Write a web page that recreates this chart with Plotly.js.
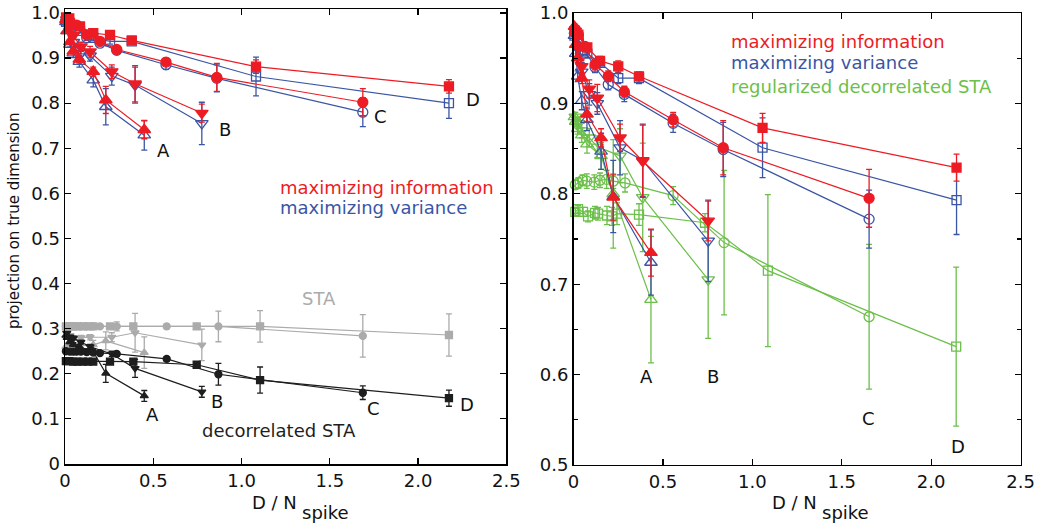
<!DOCTYPE html>
<html><head><meta charset="utf-8">
<script src="https://cdn.plot.ly/plotly-3.0.1.min.js"></script>
<style>html,body{margin:0;padding:0;background:#fff}#chart{width:1052px;height:523px}</style>
</head><body><div id="chart"></div>
<script>
// ---------- LEFT PANEL DATA (x = D / N_spike) ----------
const L_xA = [0.005,0.012,0.028,0.047,0.081,0.16,0.231,0.449];
const L_xB = [0.01,0.028,0.047,0.09,0.142,0.265,0.397,0.775];
const L_xC = [0.01,0.028,0.066,0.123,0.198,0.293,0.572,0.86,1.687];
const L_xD = [0.006,0.024,0.085,0.16,0.255,0.378,1.082,2.175];
const L_xC_sta = [0.005,0.028,0.047,0.066,0.09,0.123,0.16,0.198,0.293,0.576,0.869,1.687];
const L_xD_sta = [0.005,0.024,0.047,0.07,0.1,0.13,0.16,0.255,0.387,0.746,1.105,2.175];

const infoA_L = [0.985,0.96,0.936,0.915,0.897,0.870,0.807,0.741];
const infoB_L = [0.985,0.965,0.95,0.925,0.914,0.87,0.843,0.778];
const infoC_L = [0.985,0.982,0.973,0.951,0.937,0.919,0.891,0.857,0.802];
const infoD_L = [0.99,0.988,0.970,0.955,0.951,0.939,0.881,0.837];
const errInfoA_L = [0.003,0.004,0.005,0.006,0.008,0.01,0.03,0.02];
const errInfoB_L = [0.003,0.005,0.008,0.01,0.012,0.015,0.04,0.02];
const errInfoC_L = [0.002,0.003,0.004,0.005,0.006,0.006,0.008,0.031,0.03];
const errInfoD_L = [0.002,0.003,0.004,0.005,0.006,0.005,0.015,0.015];

const varA_L = [0.98,0.96,0.93,0.911,0.892,0.851,0.792,0.729];
const varB_L = [0.98,0.96,0.935,0.91,0.905,0.86,0.84,0.755];
const varC_L = [0.98,0.978,0.965,0.945,0.933,0.917,0.885,0.855,0.78];
const varD_L = [0.98,0.975,0.96,0.945,0.937,0.937,0.859,0.80];
const errVarA_L = [0.004,0.005,0.006,0.01,0.012,0.015,0.04,0.033];
const errVarB_L = [0.004,0.006,0.01,0.012,0.012,0.02,0.04,0.047];
const errVarC_L = [0.002,0.003,0.004,0.006,0.006,0.008,0.01,0.03,0.032];
const errVarD_L = [0.002,0.003,0.004,0.005,0.006,0.006,0.043,0.034];

const staA = [0.26,0.26,0.26,0.262,0.262,0.264,0.273,0.247];
const staB = [0.29,0.285,0.28,0.28,0.281,0.281,0.291,0.264];
const staC = [0.305,0.305,0.305,0.305,0.305,0.305,0.305,0.305,0.305,0.305,0.305,0.284];
const staD = [0.305,0.305,0.305,0.305,0.305,0.305,0.305,0.305,0.305,0.305,0.305,0.286];
const errStaA = [0.003,0.003,0.004,0.005,0.006,0.01,0.02,0.035];
const errStaB = [0.003,0.003,0.004,0.005,0.006,0.01,0.043,0.035];
const errStaC = [0.002,0.002,0.002,0.003,0.003,0.003,0.004,0.004,0.01,0.005,0.034,0.047];
const errStaD = [0.002,0.002,0.002,0.003,0.003,0.003,0.004,0.004,0.005,0.005,0.035,0.047];

const decA = [0.285,0.28,0.271,0.265,0.26,0.249,0.201,0.151];
const decB = [0.29,0.282,0.279,0.27,0.26,0.244,0.212,0.16];
const decC = [0.25,0.249,0.249,0.249,0.249,0.248,0.247,0.246,0.244,0.233,0.199,0.158];
const decD = [0.228,0.228,0.227,0.227,0.227,0.227,0.227,0.227,0.227,0.22,0.186,0.146];
const errDecA = [0.003,0.003,0.004,0.004,0.005,0.006,0.02,0.012];
const errDecB = [0.003,0.003,0.004,0.004,0.005,0.006,0.02,0.012];
const errDecC = [0.002,0.002,0.002,0.003,0.003,0.003,0.003,0.004,0.004,0.005,0.024,0.015];
const errDecD = [0.002,0.002,0.002,0.003,0.003,0.003,0.003,0.004,0.004,0.005,0.029,0.018];

// ---------- RIGHT PANEL DATA ----------
const R_xA = [0.005,0.012,0.023,0.046,0.075,0.154,0.222,0.433];
const R_xB = [0.01,0.027,0.046,0.088,0.133,0.26,0.387,0.753];
const R_xC = [0.01,0.027,0.064,0.12,0.194,0.284,0.557,0.837,1.653];
const R_xD = [0.005,0.027,0.077,0.148,0.25,0.366,1.057,2.142];
const G_xC = [0.01,0.027,0.05,0.074,0.116,0.148,0.185,0.222,0.288,0.557,0.842,1.653];
const G_xD = [0.01,0.025,0.053,0.081,0.12,0.137,0.187,0.215,0.243,0.366,0.735,1.087,2.14];

const infoA_R = [0.985,0.965,0.95,0.928,0.888,0.862,0.796,0.735];
const infoB_R = [0.98,0.963,0.941,0.916,0.906,0.862,0.836,0.770];
const infoC_R = [0.982,0.976,0.963,0.943,0.930,0.913,0.882,0.851,0.795];
const infoD_R = [0.98,0.976,0.962,0.947,0.941,0.930,0.873,0.829];
const errInfoA_R = [0.003,0.004,0.005,0.006,0.008,0.01,0.025,0.026];
const errInfoB_R = [0.003,0.005,0.008,0.01,0.015,0.015,0.04,0.022];
const errInfoC_R = [0.002,0.003,0.004,0.006,0.006,0.006,0.008,0.03,0.032];
const errInfoD_R = [0.002,0.003,0.004,0.005,0.006,0.005,0.016,0.015];

const varA_R = [0.975,0.955,0.93,0.903,0.882,0.847,0.797,0.724];
const varB_R = [0.975,0.96,0.935,0.91,0.9,0.851,0.837,0.748];
const varC_R = [0.978,0.97,0.958,0.94,0.921,0.91,0.878,0.849,0.772];
const varD_R = [0.975,0.97,0.955,0.945,0.928,0.928,0.851,0.793];
const errVarA_R = [0.004,0.005,0.006,0.01,0.012,0.02,0.04,0.036];
const errVarB_R = [0.004,0.006,0.01,0.012,0.012,0.03,0.04,0.045];
const errVarC_R = [0.002,0.003,0.004,0.006,0.006,0.008,0.01,0.03,0.032];
const errVarD_R = [0.002,0.003,0.004,0.005,0.006,0.006,0.033,0.038];

const regA = [0.885,0.88,0.872,0.865,0.855,0.842,0.80,0.683];
const regB = [0.885,0.878,0.87,0.862,0.852,0.842,0.796,0.705];
const regC = [0.81,0.812,0.815,0.814,0.813,0.815,0.816,0.814,0.812,0.798,0.746,0.664];
const regD = [0.78,0.783,0.78,0.775,0.779,0.778,0.776,0.775,0.778,0.777,0.768,0.715,0.631];
const errRegA = [0.005,0.005,0.006,0.008,0.01,0.015,0.06,0.07];
const errRegB = [0.005,0.006,0.008,0.01,0.012,0.03,0.06,0.065];
const errRegC = [0.005,0.006,0.006,0.008,0.008,0.008,0.01,0.008,0.01,0.01,0.08,0.08];
const errRegD = [0.004,0.004,0.005,0.006,0.007,0.007,0.01,0.01,0.012,0.012,0.01,0.084,0.088];

const yTicksL = [0,0.1,0.2,0.3,0.4,0.5,0.6,0.7,0.8,0.9,1.0];
const yTickTextL = ['0','0.1','0.2','0.3','0.4','0.5','0.6','0.7','0.8','0.9','1.0'];
const yTicksR = [0.5,0.6,0.7,0.8,0.9,1.0];
const yTickTextR = ['0.5','0.6','0.7','0.8','0.9','1.0'];
const xTicks = [0,0.5,1,1.5,2,2.5];
const xTickText = ['0','0.5','1.0','1.5','2.0','2.5'];

// ---------- STYLE ----------
const RED='#ed1c24', BLUE='#3a55a5', GREEN='#6cbf4a', GRAY='#ababab', BLACK='#1e1e1e';
const FONT='DejaVu Sans, Verdana, sans-serif';

function tr(x,y,e,sym,color,size,xa,ya,lw){
  return {x:x,y:y,type:'scatter',mode:'lines+markers',xaxis:xa,yaxis:ya,
    line:{color:color,width:lw||1.2},
    marker:{symbol:sym,size:size,color:color,line:{color:color,width:1.3}},
    error_y:{type:'data',array:e,visible:true,color:color,thickness:1.3,width:3},
    showlegend:false,cliponaxis:false,hoverinfo:'x+y'};
}

const data = [
  tr(L_xA,staA,errStaA,'triangle-up',GRAY,7,'x','y'),
  tr(L_xB,staB,errStaB,'triangle-down',GRAY,7,'x','y'),
  tr(L_xC_sta,staC,errStaC,'circle',GRAY,7,'x','y'),
  tr(L_xD_sta,staD,errStaD,'square',GRAY,7,'x','y'),
  tr(L_xA,decA,errDecA,'triangle-up',BLACK,7,'x','y'),
  tr(L_xB,decB,errDecB,'triangle-down',BLACK,7,'x','y'),
  tr(L_xC_sta,decC,errDecC,'circle',BLACK,7,'x','y'),
  tr(L_xD_sta,decD,errDecD,'square',BLACK,7,'x','y'),
  tr(L_xA,varA_L,errVarA_L,'triangle-up-open',BLUE,11,'x','y'),
  tr(L_xB,varB_L,errVarB_L,'triangle-down-open',BLUE,11,'x','y'),
  tr(L_xC,varC_L,errVarC_L,'circle-open',BLUE,10,'x','y'),
  tr(L_xD,varD_L,errVarD_L,'square-open',BLUE,9,'x','y'),
  tr(L_xA,infoA_L,errInfoA_L,'triangle-up',RED,11,'x','y'),
  tr(L_xB,infoB_L,errInfoB_L,'triangle-down',RED,11,'x','y'),
  tr(L_xC,infoC_L,errInfoC_L,'circle',RED,10,'x','y'),
  tr(L_xD,infoD_L,errInfoD_L,'square',RED,9,'x','y'),
  tr(R_xA,regA,errRegA,'triangle-up-open',GREEN,11,'x2','y2'),
  tr(R_xB,regB,errRegB,'triangle-down-open',GREEN,11,'x2','y2'),
  tr(G_xC,regC,errRegC,'circle-open',GREEN,10,'x2','y2'),
  tr(G_xD,regD,errRegD,'square-open',GREEN,9,'x2','y2'),
  tr(R_xA,varA_R,errVarA_R,'triangle-up-open',BLUE,11,'x2','y2'),
  tr(R_xB,varB_R,errVarB_R,'triangle-down-open',BLUE,11,'x2','y2'),
  tr(R_xC,varC_R,errVarC_R,'circle-open',BLUE,10,'x2','y2'),
  tr(R_xD,varD_R,errVarD_R,'square-open',BLUE,9,'x2','y2'),
  tr(R_xA,infoA_R,errInfoA_R,'triangle-up',RED,11,'x2','y2'),
  tr(R_xB,infoB_R,errInfoB_R,'triangle-down',RED,11,'x2','y2'),
  tr(R_xC,infoC_R,errInfoC_R,'circle',RED,10,'x2','y2'),
  tr(R_xD,infoD_R,errInfoD_R,'square',RED,9,'x2','y2')
];

const axBase = {showline:true,linecolor:'#000',linewidth:1.5,mirror:'ticks',ticks:'inside',
  ticklen:6,tickwidth:1.2,tickcolor:'#000',showgrid:false,zeroline:false,
  tickfont:{family:FONT,size:18,color:'#111'}};

function ann(text,x,y,xr,yr,color,xanchor,size){
  return {text:text,x:x,y:y,xref:xr,yref:yr,showarrow:false,xanchor:xanchor||'center',yanchor:'middle',
    font:{family:FONT,size:size||18,color:color}};
}
function py(p){ return (523-p)/523; }
function px(p){ return p/1052; }

const layout = {
  width:1052,height:523,margin:{l:0,r:0,t:0,b:0},
  paper_bgcolor:'#fff',plot_bgcolor:'#fff',showlegend:false,
  font:{family:FONT},
  xaxis:Object.assign({},axBase,{domain:[0.0618,0.4813],range:[0,2.5],anchor:'y',tickvals:xTicks,ticktext:xTickText}),
  yaxis:Object.assign({},axBase,{domain:[0.1128,0.9822],range:[0,1.008],anchor:'x',tickvals:yTicksL,ticktext:yTickTextL}),
  xaxis2:Object.assign({},axBase,{domain:[0.5452,0.9701],range:[0,2.5],anchor:'y2',tickvals:xTicks,ticktext:xTickText}),
  yaxis2:Object.assign({},axBase,{domain:[0.1109,0.9751],range:[0.5,1.0],anchor:'x2',tickvals:yTicksR,ticktext:yTickTextR,
    minor:{tickvals:[0.55,0.65,0.75,0.85,0.95],ticks:'inside',ticklen:4,tickcolor:'#000',showgrid:false}}),
  annotations:[
    Object.assign(ann('projection on true dimension',px(14),py(221),'paper','paper','#111','center',15),{textangle:-90}),
    ann('D / N',px(250),py(502),'paper','paper','#111','left',18),
    ann('spike',px(300),py(512),'paper','paper','#111','left',18),
    ann('D / N',px(770),py(502),'paper','paper','#111','left',18),
    ann('spike',px(820),py(512),'paper','paper','#111','left',18),
    ann('A',0.557,0.696,'x','y','#111'), ann('B',0.907,0.742,'x','y','#111'),
    ann('C',1.785,0.77,'x','y','#111'), ann('D',2.31,0.807,'x','y','#111'),
    ann('A',0.497,0.110,'x','y','#111'), ann('B',0.859,0.138,'x','y','#111'),
    ann('C',1.747,0.123,'x','y','#111'), ann('D',2.28,0.131,'x','y','#111'),
    ann('maximizing information',1.207,0.614,'x','y',RED,'left'),
    ann('maximizing variance',1.207,0.568,'x','y',BLUE,'left'),
    ann('STA',1.439,0.368,'x','y',GRAY,'center'),
    ann('decorrelated STA',0.765,0.075,'x','y',BLACK,'left'),
    ann('A',0.41,0.598,'x2','y2','#111'), ann('B',0.779,0.598,'x2','y2','#111'),
    ann('C',1.651,0.551,'x2','y2','#111'), ann('D',2.148,0.521,'x2','y2','#111'),
    ann('maximizing information',0.869,0.969,'x2','y2',RED,'left'),
    ann('maximizing variance',0.869,0.945,'x2','y2',BLUE,'left'),
    ann('regularized decorrelated STA',0.869,0.919,'x2','y2',GREEN,'left')
  ]
};

Plotly.newPlot('chart',data,layout,{staticPlot:true,displayModeBar:false});
</script>
</body></html>
